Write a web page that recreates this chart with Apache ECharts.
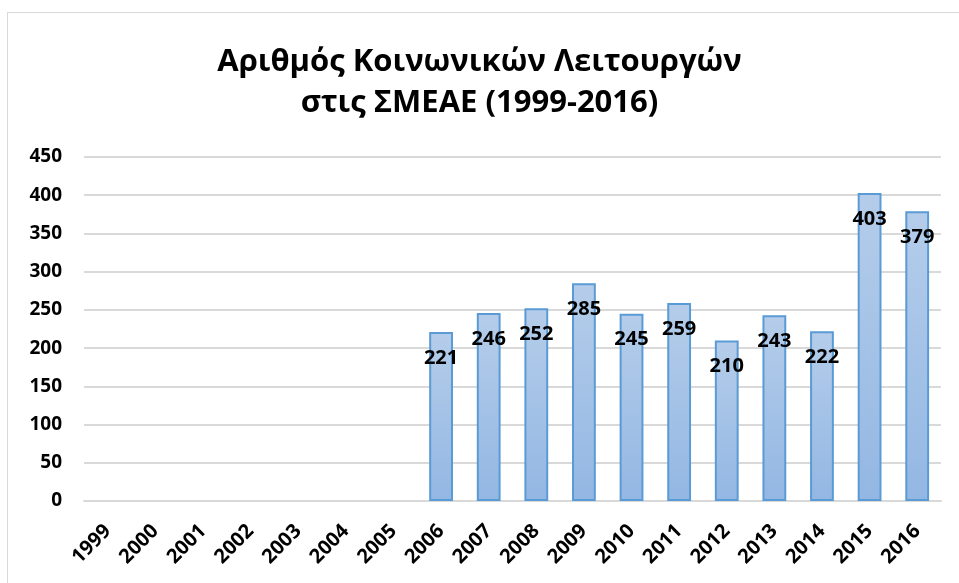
<!DOCTYPE html>
<html>
<head>
<meta charset="utf-8">
<script src="https://cdn.jsdelivr.net/npm/echarts@6/dist/echarts.min.js"></script>
<style>
    html, body { margin: 0; padding: 0; background: #fff; }
    .frame { position: absolute; left: 7px; top: 12px; width: 980px; height: 600px; border: 1px solid #d9d9d9; }
    #chart { position: absolute; left: 0; top: 0; width: 959px; height: 583px; }
</style>
</head>
<body>
<div class="frame"></div>
<div id="chart"></div>
<script>
// years on the x axis
const years = ['1999', '2000', '2001', '2002', '2003', '2004', '2005', '2006', '2007', '2008',
    '2009', '2010', '2011', '2012', '2013', '2014', '2015', '2016']
// number of social workers (no data before 2006)
const workers = [null, null, null, null, null, null, null, 221, 246, 252,
    285, 245, 259, 210, 243, 222, 403, 379]

const font = '"Open Sans", "Noto Sans", sans-serif'

const chart = echarts.init(document.getElementById('chart'))
const option = {
    animation: false,
    title: {
        text: 'Αριθμός Κοινωνικών Λειτουργών\nστις ΣΜΕΑΕ (1999-2016)',
        left: 'center',
        top: 37,
        textStyle: {
            fontFamily: font,
            fontSize: 31,
            fontWeight: 'bold',
            color: '#000',
            lineHeight: 41,
        },
    },
    grid: {
        left: 84,
        right: 18,
        top: 157,
        bottom: 82,
    },
    xAxis: {
        type: 'category',
        data: years,
        axisLine: { show: true, lineStyle: { color: '#d9d9d9', width: 2 } },
        axisTick: { show: false },
        axisLabel: {
            interval: 0,
            rotate: 45,
            margin: 27,
            fontFamily: font,
            fontSize: 20,
            fontWeight: 'bold',
            color: '#000',
        },
    },
    yAxis: {
        type: 'value',
        min: 0,
        max: 450,
        interval: 50,
        axisLine: { show: false },
        axisTick: { show: false },
        splitLine: { lineStyle: { color: '#d9d9d9', width: 2 } },
        axisLabel: {
            margin: 22,
            fontFamily: font,
            fontSize: 19,
            fontWeight: 'bold',
            color: '#000',
        },
    },
    series: [
        {
            type: 'bar',
            data: workers,
            barWidth: '50%',
            itemStyle: {
                color: new echarts.graphic.LinearGradient(0, 0, 0, 1, [
                    { offset: 0, color: '#b5cdea' },
                    { offset: 1, color: '#93b7e3' },
                ]),
                borderColor: '#5b9bd5',
                borderWidth: 2,
            },
            label: {
                show: true,
                position: 'insideTop',
                distance: 16,
                fontFamily: font,
                fontSize: 20,
                fontWeight: 'bold',
                color: '#000',
            },
        },
    ],
}
chart.setOption(option)
</script>
</body>
</html>
